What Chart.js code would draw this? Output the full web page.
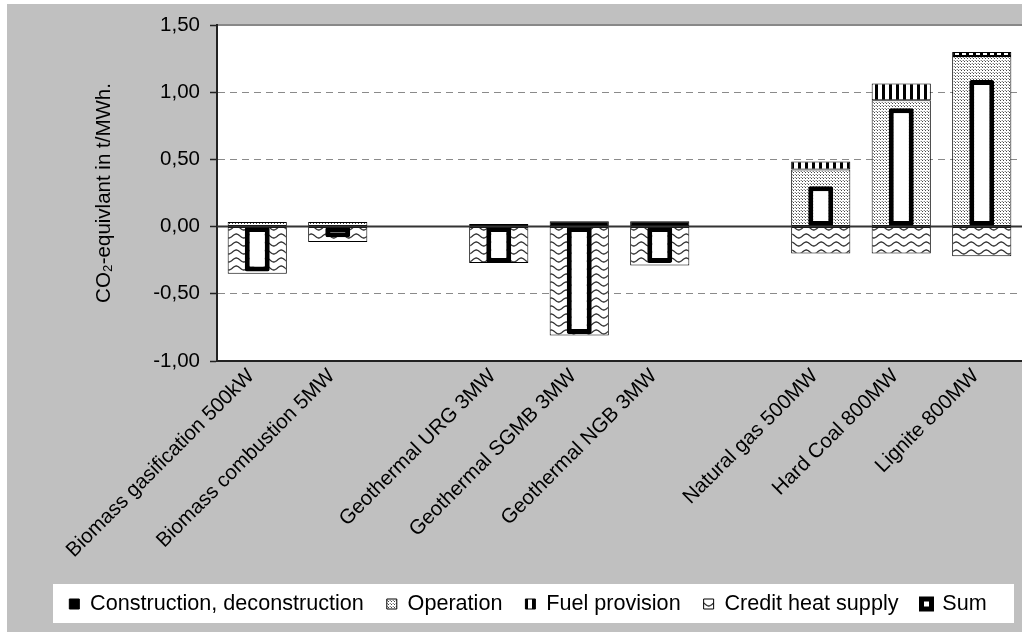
<!DOCTYPE html>
<html><head><meta charset="utf-8">
<script src="https://cdn.jsdelivr.net/npm/chart.js@4.4.0/dist/chart.umd.min.js"></script>
<style>html,body{margin:0;padding:0;background:#fff;overflow:hidden}#wrap{width:1022px;height:632px}</style>
</head><body><div id="wrap"><canvas id="c" width="1022" height="632"></canvas></div>
<script>
// ---- data ----
const categories = ['Biomass gasification 500kW','Biomass combustion 5MW','','Geothermal URG 3MW','Geothermal SGMB 3MW','Geothermal NGB 3MW','','Natural gas 500MW','Hard Coal 800MW','Lignite 800MW'];
const seriesNames = ['Construction, deconstruction','Operation','Fuel provision','Credit heat supply','Sum'];
const construction  = [0.005, 0.005, null, 0.02, 0.04, 0.04, null, 0.005, 0.005, 0.005];
const operation     = [0.03, 0.03, null, null, null, null, null, 0.42, 0.935, 1.265];
const fuelProvision = [null, null, null, null, null, null, null, 0.06, 0.125, 0.03];
const creditHeat    = [-0.35, -0.115, null, -0.27, -0.81, -0.29, null, -0.20, -0.20, -0.22];
const sumValues     = [-0.335, -0.08, null, -0.27, -0.80, -0.27, null, 0.30, 0.88, 1.09];
const yTicks = [-1, -0.5, 0, 0.5, 1, 1.5];

Chart.defaults.font.family = "'Liberation Sans', Arial, sans-serif";

function makePattern(w, h, draw) {
  const c = document.createElement('canvas'); c.width = w; c.height = h;
  const g = c.getContext('2d'); draw(g, w, h);
  return g.createPattern(c, 'repeat');
}
const dotPattern = makePattern(3, 3, (g) => {
  g.fillStyle = '#fff'; g.fillRect(0, 0, 3, 3);
  g.fillStyle = '#444'; g.fillRect(1, 1, 1, 1);
  g.fillStyle = '#888'; g.fillRect(0, 0, 1, 1);
  g.fillStyle = '#d0d0d0'; g.fillRect(2, 0, 1, 1);
});
const stripePattern = makePattern(7, 2, (g) => {
  g.fillStyle = '#fff'; g.fillRect(0, 0, 7, 2);
  g.fillStyle = '#000'; g.fillRect(0, 0, 3, 2);
});
const wavePattern = makePattern(15, 8, (g) => {
  g.fillStyle = '#fff'; g.fillRect(0, 0, 15, 8);
  g.strokeStyle = '#333'; g.lineWidth = 1.3;
  g.beginPath();
  for (let x = -1; x <= 16; x += 0.5) {
    const y = 4 + 2 * Math.sin(2 * Math.PI * x / 15);
    if (x === -1) g.moveTo(x, y); else g.lineTo(x, y);
  }
  g.stroke();
});

const bgPlugin = {
  id: 'bg',
  beforeDraw(chart) {
    const {ctx, chartArea: a, width, height} = chart;
    ctx.save();
    ctx.fillStyle = '#fff'; ctx.fillRect(0, 0, width, height);
    ctx.fillStyle = '#c0c0c0'; ctx.fillRect(7, 4, width - 7, height - 4);
    ctx.fillStyle = '#fff'; ctx.fillRect(a.left, a.top, a.right - a.left, a.bottom - a.top);
    ctx.fillRect(53, 584, 961, 39);
    ctx.strokeStyle = '#888'; ctx.lineWidth = 2;
    ctx.beginPath(); ctx.moveTo(a.left, a.top); ctx.lineTo(a.right, a.top); ctx.stroke();
    ctx.restore();
  },
  afterDatasetsDraw(chart) {
    const {ctx, chartArea: a, scales: {y}} = chart;
    const y0 = y.getPixelForValue(0);
    ctx.save();
    ctx.strokeStyle = '#333'; ctx.lineWidth = 2;
    ctx.beginPath(); ctx.moveTo(a.left, y0); ctx.lineTo(a.right, y0); ctx.stroke();
    ctx.restore();
  }
};

const part = {grouped: false, categoryPercentage: 1, barPercentage: 0.735, borderColor: '#000', borderWidth: 1, borderSkipped: false, stack: 'parts'};

new Chart(document.getElementById('c'), {
  type: 'bar',
  data: {
    labels: categories,
    datasets: [
      Object.assign({label: seriesNames[0], data: construction, backgroundColor: '#000'}, part),
      Object.assign({label: seriesNames[1], data: operation, backgroundColor: dotPattern}, part),
      Object.assign({label: seriesNames[2], data: fuelProvision, backgroundColor: stripePattern}, part),
      Object.assign({label: seriesNames[3], data: creditHeat, backgroundColor: wavePattern}, part),
      {label: seriesNames[4], data: sumValues, backgroundColor: '#fff', borderColor: '#000', borderWidth: 5,
       borderSkipped: false, borderRadius: 2, grouped: false, categoryPercentage: 1, barPercentage: 0.31, stack: 'sum', order: -1}
    ]
  },
  options: {
    responsive: false, animation: false, devicePixelRatio: 1,
    layout: {padding: {top: 25, left: 34, right: 0, bottom: 7.2}},
    plugins: {
      legend: {
        position: 'bottom',
        labels: {color: '#000', font: {size: 21.6}, boxWidth: 10, boxHeight: 10, padding: 23,
                 sort: (a, b) => a.datasetIndex - b.datasetIndex}
      },
      tooltip: {enabled: false}
    },
    scales: {
      x: {
        stacked: true,
        grid: {display: false, drawTicks: false},
        border: {display: true, color: '#222', width: 2},
        ticks: {color: '#000', font: {size: 20.5}, maxRotation: 45, minRotation: 45, autoSkip: false, padding: 3, labelOffset: -6},
        afterFit: (s) => { s.height = 209.2; }
      },
      y: {
        stacked: true, min: -1, max: 1.5,
        afterBuildTicks: (s) => { s.ticks = yTicks.map(v => ({value: v})); },
        afterFit: (s) => { s.width = 183; },
        grid: {
          color: (c) => (c.tick && (c.tick.value === 0 || c.tick.value === 1.5 || c.tick.value === -1)) ? 'rgba(0,0,0,0)' : '#8a8a8a',
          lineWidth: 1, tickLength: 7, tickColor: '#222', tickWidth: 1.5, drawTicks: true
        },
        border: {display: true, color: '#222', width: 2, dash: [7, 5]},
        ticks: {color: '#000', font: {size: 20.5}, padding: 10, callback: (v) => Number(v).toFixed(2).replace('.', ',')},
        title: {display: true, text: 'CO₂-equivlant in t/MWh.', color: '#000', font: {size: 20.5}, padding: {top: 58, bottom: 0}}
      }
    }
  },
  plugins: [bgPlugin]
});
</script>
</body></html>
